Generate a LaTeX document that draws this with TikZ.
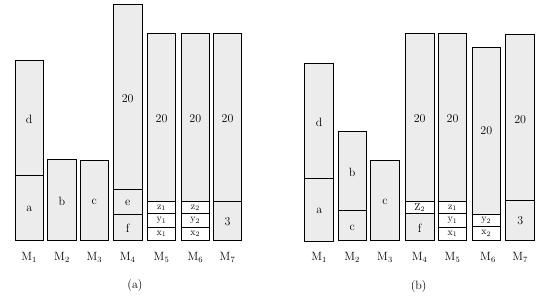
\documentclass[tikz,border=0pt]{standalone}
\definecolor{boxgray}{RGB}{236,236,236}
\tikzset{
  seg/.style={draw=black,fill=boxgray,line width=0.8pt},
  wseg/.style={draw=black,fill=white,line width=0.8pt},
  txt/.style={inner sep=0pt,font=\fontsize{12}{14}\selectfont},
  stxt/.style={inner sep=0pt,font=\fontsize{10}{12}\selectfont}
}
\begin{document}
\begin{tikzpicture}[x=1pt,y=-1pt]
\useasboundingbox (0,0) rectangle (547,300);
% ---------- (a) ----------
% M1
\draw[seg] (15,60.7) rectangle (43.3,175);
\draw[seg] (15,175) rectangle (43.3,240.5);
\node[txt] (ad) at (29.2,119) {d};
\node[txt] (aa) at (29.2,209) {a};
% M2
\draw[seg] (47.7,159.3) rectangle (76.3,240.5);
\node[txt] (ab) at (62,201) {b};
% M3
\draw[seg] (80,160.3) rectangle (108.7,240.5);
\node[txt] (ac) at (94.3,201.5) {c};
% M4
\draw[seg] (113.3,4.3) rectangle (142,189);
\draw[seg] (113.3,189) rectangle (142,214.7);
\draw[seg] (113.3,214.7) rectangle (142,240.5);
\node[txt] (a20a) at (127.7,98.5) {20};
\node[txt] (ae) at (127.7,202.5) {e};
\node[txt] (af) at (127.7,228) {f};
% M5
\draw[seg] (147.3,33.3) rectangle (175.7,201.3);
\draw[wseg] (147.3,201.3) rectangle (175.7,213.7);
\draw[wseg] (147.3,213.7) rectangle (175.7,227.7);
\draw[wseg] (147.3,227.7) rectangle (175.7,240.5);
\node[txt] (a20b) at (161.5,118.5) {20};
\node[stxt] (az1) at (161.5,207.8) {z$_1$};
\node[stxt] (ay1) at (161.5,220.5) {y$_1$};
\node[stxt] (ax1) at (161.5,234) {x$_1$};
% M6
\draw[seg] (181,33.7) rectangle (209.7,201.3);
\draw[wseg] (181,201.3) rectangle (209.7,213.7);
\draw[wseg] (181,213.7) rectangle (209.7,227.7);
\draw[wseg] (181,227.7) rectangle (209.7,240.5);
\node[txt] (a20c) at (195.3,118.5) {20};
\node[stxt] (az2) at (195.3,207.8) {z$_2$};
\node[stxt] (ay2) at (195.3,220.5) {y$_2$};
\node[stxt] (ax2) at (195.3,234) {x$_2$};
% M7
\draw[seg] (213.3,33.3) rectangle (241.7,201.3);
\draw[seg] (213.3,201.3) rectangle (241.7,240.5);
\node[txt] (a20d) at (227.5,118.5) {20};
\node[txt] (a3) at (227.5,221.5) {3};
% labels
\node[txt] (alm1) at (29.2,257.7) {M$_1$};
\node[txt] (alm2) at (62,257.7) {M$_2$};
\node[txt] (alm3) at (94.3,257.7) {M$_3$};
\node[txt] (alm4) at (127.7,257.7) {M$_4$};
\node[txt] (alm5) at (161.5,257.7) {M$_5$};
\node[txt] (alm6) at (195.3,257.7) {M$_6$};
\node[txt] (alm7) at (227.5,257.7) {M$_7$};
\node[txt] (capa) at (135,286) {(a)};
% ---------- (b) ----------
% M1
\draw[seg] (304.7,63) rectangle (333.7,178.3);
\draw[seg] (304.7,178.3) rectangle (333.7,241);
\node[txt] (bd) at (319.2,122) {d};
\node[txt] (ba) at (319.2,211) {a};
% M2
\draw[seg] (338,131.3) rectangle (366.3,210.3);
\draw[seg] (338,210.3) rectangle (366.3,240.5);
\node[txt] (bb) at (352.2,172.5) {b};
\node[txt] (bc) at (352.2,227.8) {c};
% M3
\draw[seg] (370.7,160.3) rectangle (399.3,240.5);
\node[txt] (bc2) at (385,201.8) {c};
% M4
\draw[seg] (405.3,33.3) rectangle (434,201.3);
\draw[wseg] (405.3,201.3) rectangle (434,213.7);
\draw[seg] (405.3,213.7) rectangle (434,240.5);
\node[txt] (b20a) at (419.7,118.5) {20};
\node[stxt] (bz2) at (419.7,207.8) {Z$_2$};
\node[txt] (bf) at (419.7,227.8) {f};
% M5
\draw[seg] (438.3,33.7) rectangle (466.7,201.7);
\draw[wseg] (438.3,201.7) rectangle (466.7,213.7);
\draw[wseg] (438.3,213.7) rectangle (466.7,227.7);
\draw[wseg] (438.3,227.7) rectangle (466.7,240.5);
\node[txt] (b20b) at (452.5,118.5) {20};
\node[stxt] (bz1) at (452.5,208) {z$_1$};
\node[stxt] (by1) at (452.5,220.5) {y$_1$};
\node[stxt] (bx1) at (452.5,234) {x$_1$};
% M6
\draw[seg] (472,47) rectangle (500.7,214.7);
\draw[wseg] (472,214.7) rectangle (500.7,226.7);
\draw[wseg] (472,226.7) rectangle (500.7,240.5);
\node[txt] (b20c) at (486.3,130.5) {20};
\node[stxt] (by2) at (486.3,220.5) {y$_2$};
\node[stxt] (bx2) at (486.3,233.5) {x$_2$};
% M7
\draw[seg] (505.7,34.7) rectangle (534.7,200.3);
\draw[seg] (505.7,200.3) rectangle (534.7,240.5);
\node[txt] (b20d) at (520.2,119.5) {20};
\node[txt] (b3) at (520.2,221) {3};
% labels
\node[txt] (blm1) at (319.2,257.7) {M$_1$};
\node[txt] (blm2) at (352.2,257.7) {M$_2$};
\node[txt] (blm3) at (385,257.7) {M$_3$};
\node[txt] (blm4) at (419.7,257.7) {M$_4$};
\node[txt] (blm5) at (452.5,257.7) {M$_5$};
\node[txt] (blm6) at (488,257.7) {M$_6$};
\node[txt] (blm7) at (520.2,257.7) {M$_7$};
\node[txt] (capb) at (418.7,287) {(b)};
\end{tikzpicture}
\end{document}
